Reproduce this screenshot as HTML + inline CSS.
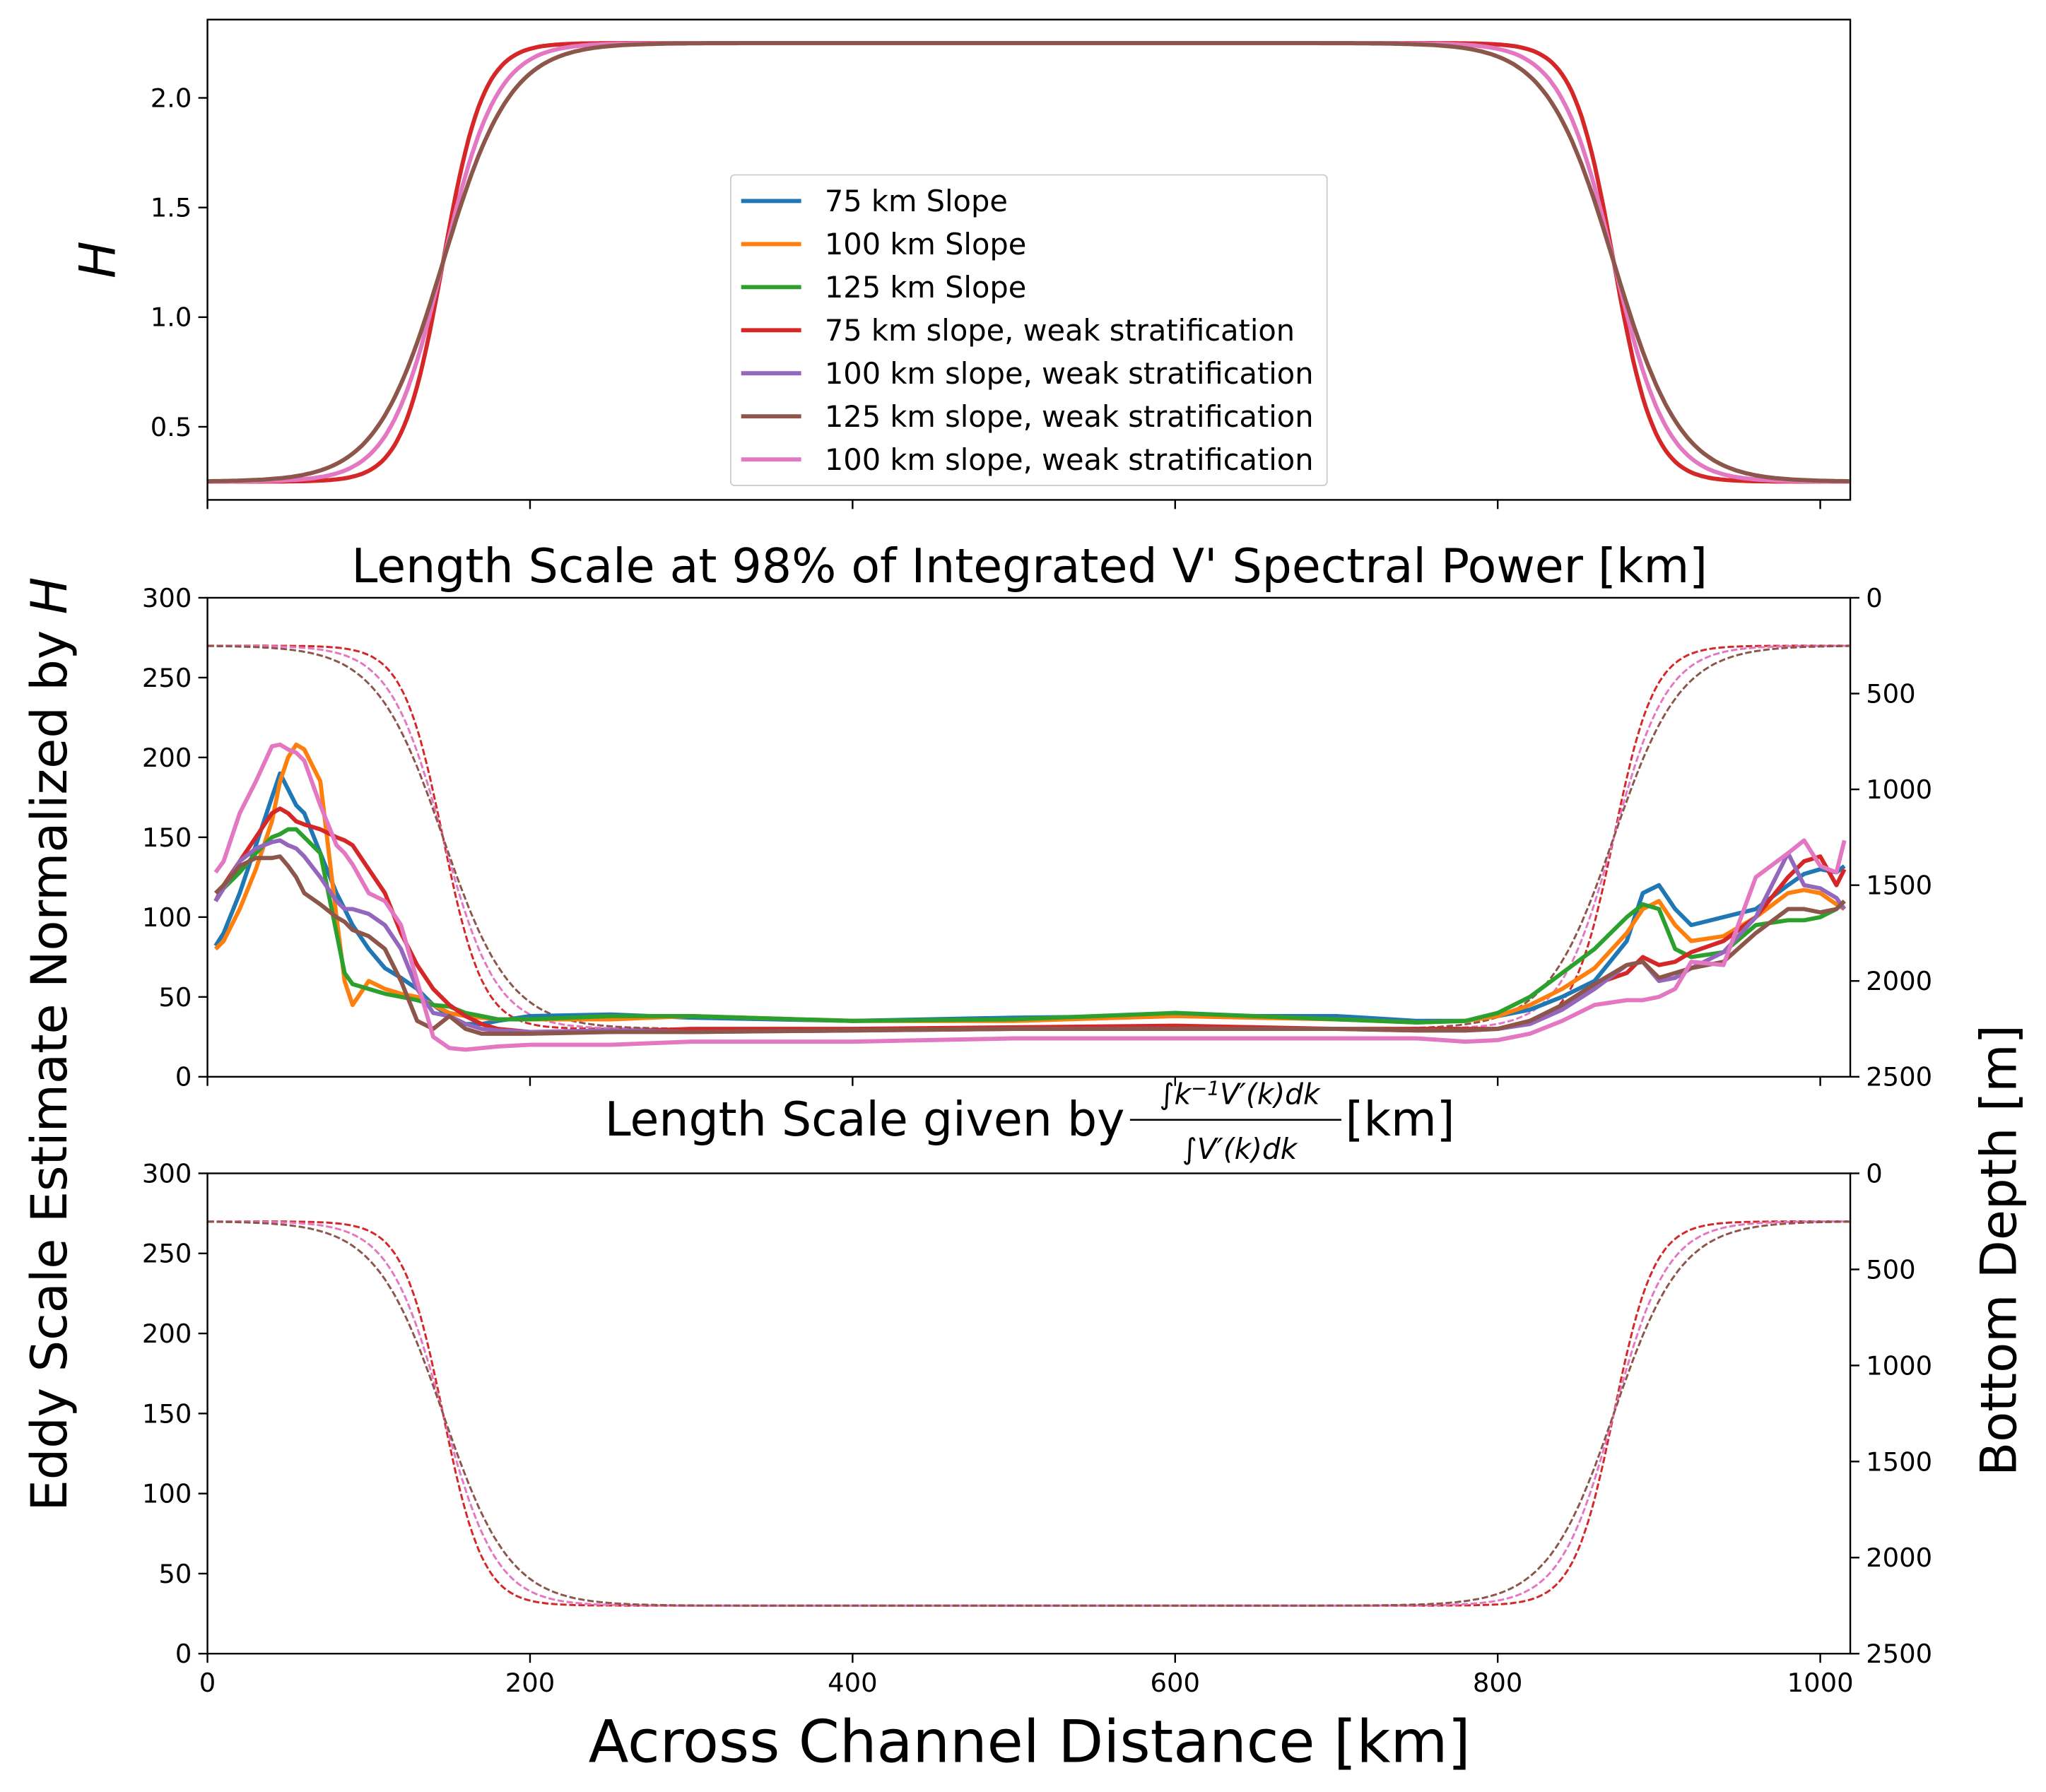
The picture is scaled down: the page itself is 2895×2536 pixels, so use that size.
<!DOCTYPE html>
<html><head><meta charset="utf-8"><style>
html,body{margin:0;padding:0;background:#fff}
svg{display:block}
text{font-family:"DejaVu Sans","Liberation Sans",sans-serif;fill:#000}
</style></head><body>
<svg id="fig" width="2895" height="2536" viewBox="0 0 1568 1373" preserveAspectRatio="none" xmlns="http://www.w3.org/2000/svg">
<rect width="1568" height="1382" fill="#fff"/>
<g id="top"></g>
<g id="mid"></g>
<g id="bot"></g>
<g id="legend"></g>
<text x="88" y="199" font-size="38" font-style="italic" text-anchor="middle" transform="rotate(-90 88 199)">H</text>
<text x="51" y="800" font-size="38" text-anchor="middle" transform="rotate(-90 51 800)">Eddy Scale Estimate Normalized by <tspan font-style="italic">H</tspan></text>
<text x="1545" y="958" font-size="38" text-anchor="middle" transform="rotate(-90 1545 958)">Bottom Depth [m]</text>
<text x="789" y="1350" font-size="45" text-anchor="middle">Across Channel Distance [km]</text>
<text x="789" y="446" font-size="36" text-anchor="middle">Length Scale at 98% of Integrated V' Spectral Power [km]</text>
<g>
<text x="862" y="870" font-size="36" text-anchor="end">Length Scale given by</text>
<text x="950" y="846" font-size="22" font-style="italic" text-anchor="middle">∫k<tspan dy="-7" font-size="15">−1</tspan><tspan dy="7">V′(k)dk</tspan></text>
<line x1="866" y1="858" x2="1028" y2="858" stroke="#000" stroke-width="1.4"/>
<text x="950" y="888" font-size="22" font-style="italic" text-anchor="middle">∫V′(k)dk</text>
<text x="1031" y="870" font-size="36">[km]</text>
</g>
</svg>
<script>
const NS="http://www.w3.org/2000/svg";
// ---- data ----
const xKm=[5,10,20,30,40,45,50,55,60,70,80,85,90,100,110,120,130,140,150,160,170,180,200,250,300,400,500,600,700,750,780,800,820,840,860,880,890,900,910,920,940,960,980,990,1000,1010,1015];
const blue=[82,90,115,145,175,190,180,170,165,140,115,105,95,80,68,62,55,45,38,33,33,35,38,39,37,35,37,38,38,35,35,38,42,50,60,85,115,120,105,95,100,105,120,127,130,128,132];
const orange=[80,85,105,130,160,185,200,208,205,185,100,60,45,60,55,52,50,45,40,38,37,36,36,36,38,35,35,38,36,34,35,38,45,55,68,90,105,110,95,85,88,100,115,117,115,108,105];
const green=[110,118,128,140,150,152,155,155,150,140,90,65,58,55,52,50,48,45,44,40,38,36,36,38,38,35,36,40,36,34,35,40,50,65,80,100,108,105,80,75,78,95,98,98,100,105,110];
const red=[110,120,135,150,165,168,165,160,158,155,150,148,145,130,115,90,70,55,45,38,33,30,28,28,30,30,31,32,30,30,30,30,35,45,58,65,75,70,72,78,85,100,125,135,138,120,130];
const purple=[110,118,135,143,147,148,145,143,138,125,110,105,105,102,95,80,55,40,38,33,30,29,28,29,28,29,30,30,30,29,29,30,33,42,55,70,72,60,62,68,78,100,140,120,118,112,105];
const brown=[115,120,132,137,137,138,132,125,115,108,100,97,92,88,80,60,35,30,38,30,27,27,27,28,28,29,30,30,30,29,29,30,35,45,58,70,72,62,65,68,72,90,105,105,103,105,110];
const pink=[128,135,165,185,207,208,205,203,198,170,145,140,133,115,110,95,60,25,18,17,18,19,20,20,22,22,24,24,24,24,22,23,27,35,45,48,48,50,55,72,70,125,140,148,132,128,148];
const seriesNames=["75 km Slope","100 km Slope","125 km Slope","75 km slope, weak stratification","100 km slope, weak stratification","125 km slope, weak stratification","100 km slope, weak stratification"];
const seriesColors=["#1f77b4","#ff7f0e","#2ca02c","#d62728","#9467bd","#8c564b","#e377c2"];
// bathymetry: slope widths (km) and slope centers
const slopeWidths=[75,100,125];
const slopeColors=["#d62728","#e377c2","#8c564b"];
const slopeCenters=[146,872];
const Hshelf=0.25, Hdeep=2.25;
const leftTicks=[0,50,100,150,200,250,300];
const depthTicks=[0,500,1000,1500,2000,2500];
const xTicks=[0,200,400,600,800,1000];
const hTicks=[0.5,1.0,1.5,2.0];

const X0=159,X1=1418,XMAX=(X1-X0)/1.236;
const sx=k=>X0+k*1.236;
function el(tag,attrs,parent){const e=document.createElementNS(NS,tag);for(const k in attrs)e.setAttribute(k,attrs[k]);parent.appendChild(e);return e;}
function profile(x,w){const s=w/3;return 0.5*(Math.tanh((x-slopeCenters[0])/s)-Math.tanh((x-slopeCenters[1])/s));}
function frame(g,top,bot,yTicks,yfun,fmt,rightTicks,rfun){
  for(const t of xTicks){const l=el('line',{x1:sx(t),x2:sx(t),y1:bot,y2:bot+7,stroke:'#000','stroke-width':1.3},g);}
  for(const t of yTicks){const y=yfun(t);el('line',{x1:X0-7,x2:X0,y1:y,y2:y,stroke:'#000','stroke-width':1.3},g);const tx=el('text',{x:X0-12,y:y+7,'font-size':20,'text-anchor':'end'},g);tx.textContent=fmt(t);}
  if(rightTicks)for(const t of rightTicks){const y=rfun(t);el('line',{x1:X1,x2:X1+7,y1:y,y2:y,stroke:'#000','stroke-width':1.3},g);const tx=el('text',{x:X1+12,y:y+7,'font-size':20},g);tx.textContent=t;}
  const r=el('rect',{x:X0,y:top,width:X1-X0,height:bot-top,fill:'none',stroke:'#000','stroke-width':1.3},g);
  
}
function pts(fn){let a=[];for(let k=0;k<=XMAX;k+=2)a.push(sx(k).toFixed(1)+','+fn(k).toFixed(1));return a.join(' ');}
// top panel
const gt=document.getElementById('top');
const hy=v=>75+(2.0-v)*168;
slopeWidths.forEach((w,i)=>{const p=el('polyline',{points:pts(k=>hy(Hshelf+(Hdeep-Hshelf)*profile(k,w))),fill:'none',stroke:slopeColors[i],'stroke-width':3.2},gt);});
frame(gt,15,383,hTicks,hy,v=>v.toFixed(1));
// mid & bottom
function panel(g,top,bot,withData){
  const ly=v=>bot-v*(bot-top)/300, ry=d=>top+d*(bot-top)/2500;
  slopeWidths.forEach((w,i)=>{const p=el('polyline',{points:pts(k=>ry(250+2000*profile(k,w))),fill:'none',stroke:slopeColors[i],'stroke-width':1.6,'stroke-dasharray':'5,2'},g);});
  if(withData){[blue,orange,green,red,purple,brown,pink].forEach((s,i)=>{const p=el('polyline',{points:s.map((v,j)=>sx(xKm[j]).toFixed(1)+','+ly(v).toFixed(1)).join(' '),fill:'none',stroke:seriesColors[i],'stroke-width':3.2,'stroke-linejoin':'round'},g);});}
  frame(g,top,bot,leftTicks,ly,v=>v,depthTicks,ry);
}
panel(document.getElementById('mid'),458,825,true);
const gb=document.getElementById('bot');
panel(gb,899,1267,false);
for(const t of xTicks){const tx=el('text',{x:sx(t),y:1296,'font-size':20,'text-anchor':'middle'},gb);tx.textContent=t;}
// legend
const lg=document.getElementById('legend');
el('rect',{x:560,y:134,width:457,height:238,rx:3,fill:'#fff','fill-opacity':0.85,stroke:'#ccc'},lg);
seriesNames.forEach((n,i)=>{const y=154+i*33;const l=el('line',{x1:568,x2:614,y1:y,y2:y,stroke:seriesColors[i],'stroke-width':3.2},lg);const t=el('text',{x:632,y:y+8,'font-size':22.5},lg);t.textContent=n;});
</script>
</body></html>
